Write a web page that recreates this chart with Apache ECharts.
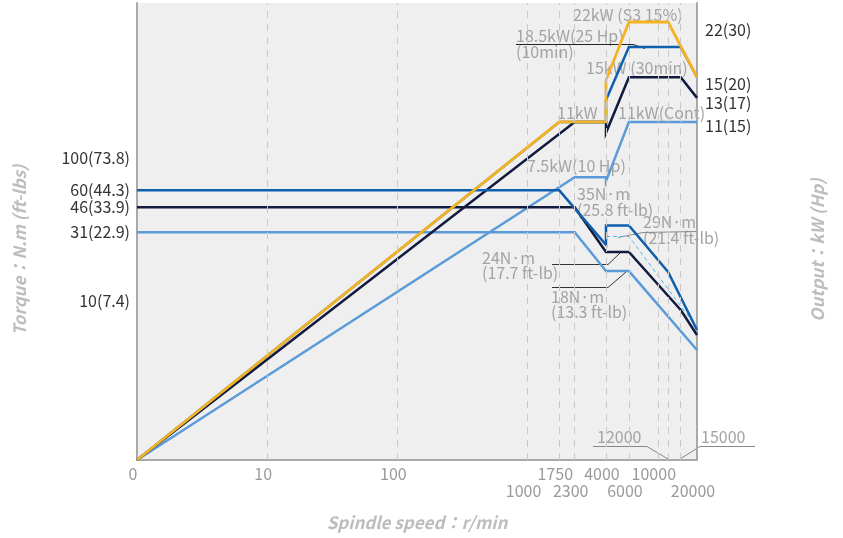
<!DOCTYPE html>
<html><head><meta charset="utf-8">
<script src="https://cdn.jsdelivr.net/npm/echarts@6/dist/echarts.min.js"></script>
<style>html,body{margin:0;padding:0;background:#fff}#c{width:843px;height:538px}</style>
</head><body><div id="c"></div>
<script>
// ---------- data ----------
const speedTicksRow1 = [1, 10, 100, 1750, 4000, 10000];
const speedTickText1 = ['0', '10', '100', '1750', '4000', '10000'];
const speedTicksRow2 = [1000, 2300, 6000, 20000];
const speedTickText2 = ['1000', '2300', '6000', '20000'];
const gridSpeeds = [10, 100, 1000, 1750, 2300, 4000, 6000, 10000, 12000, 15000];

const torqueTicks = [100, 60, 46, 31, 10];
const torqueTickText = ['100(73.8)', '60(44.3)', '46(33.9)', '31(22.9)', '10(7.4)'];
const powerTicks = [22, 15, 13, 11];
const powerTickText = ['22(30)', '15(20)', '13(17)', '11(15)'];

const P0 = 1.055; // power drawn at 0 r/min (axis floor)
// power curves (kW)
const powerS3 = [[1, P0], [1750, 11], [4000, 11], [4000, 14.7], [6000, 22], [12000, 22], [20000, 15]];
const power10min = [[1, P0], [1750, 11], [4000, 11], [4000, 12.8], [6000, 18.5], [15000, 18.5], [20000, 15]];
const power30min = [[1, P0], [2300, 11], [4000, 11], [4000, 10.2], [6000, 15], [15000, 15], [20000, 13]];
const powerCont = [[1, P0], [2300, 7.5], [4000, 7.5], [4000, 7.3], [6000, 11], [20000, 11]];
// torque curves (N·m)
const torque10min = [[1, 60], [1750, 60], [4000, 25.4], [4000, 34.5], [6000, 34.5], [12000, 16.6], [20000, 6.64]];
const torque30min = [[1, 46], [2300, 46], [4000, 22.7], [6000, 22.7], [15000, 9.1], [20000, 6.13]];
const torqueCont = [[1, 31], [2300, 31], [4000, 16.8], [6000, 16.8], [20000, 4.84]];
const torqueS3 = [[4000, 29], [6000, 29], [20000, 6.85]];

// ---------- chart ----------
const FONT = '"Noto Sans CJK KR","Noto Sans",sans-serif';
const AX = '#a9a9a9';
const chart = echarts.init(document.getElementById('c'), null, {renderer: 'canvas'});

function ln(name, data, color, yIdx, w, type) {
  return {
    type: 'line', name, data, yAxisIndex: yIdx, symbol: 'none', silent: true,
    lineStyle: {color, width: w || 2.5, type: type || 'solid', cap: 'butt', join: 'miter'},
    animation: false
  };
}

chart.setOption({
  animation: false,
  grid: {left: 137, right: 146, top: 3, bottom: 78, show: true, backgroundColor: '#efefef', borderWidth: 0},
  xAxis: {
    type: 'log', min: 1, max: 20000, logBase: 10,
    axisLine: {show: true, onZero: false, lineStyle: {color: AX, width: 2}},
    axisTick: {show: false}, axisLabel: {show: false}, splitLine: {show: false}
  },
  yAxis: [
    {type: 'log', min: 0.854, max: 1152, position: 'left',
     axisLine: {show: true, onZero: false, lineStyle: {color: AX, width: 2}},
     axisTick: {show: false}, axisLabel: {show: false}, splitLine: {show: false}},
    {type: 'log', min: P0, max: 25.1, position: 'right',
     axisLine: {show: true, onZero: false, lineStyle: {color: AX, width: 2}},
     axisTick: {show: false}, axisLabel: {show: false}, splitLine: {show: false}}
  ],
  series: [
    {type: 'line', data: [], yAxisIndex: 0, silent: true,
     markLine: {symbol: 'none', silent: true, animation: false, label: {show: false},
       lineStyle: {color: '#c9c9c9', width: 1, type: [7, 6]},
       data: gridSpeeds.map(v => ({xAxis: v}))}},
    ln('torqueCont', torqueCont, '#5b9bd9', 0),
    ln('powerCont', powerCont, '#5b9bd9', 1),
    ln('torqueS3', torqueS3, '#4fb5ec', 0, 1, [4, 3]),
    ln('torque30min', torque30min, '#121a3e', 0),
    ln('power30min', power30min, '#121a3e', 1),
    ln('torque10min', torque10min, '#0f5fad', 0),
    ln('power10min', power10min, '#0f5fad', 1),
    ln('powerS3', powerS3, '#f5b223', 1, 2.8)
  ]
});

// ---------- text & annotations ----------
const px = v => chart.convertToPixel({xAxisIndex: 0}, v);
const pyT = v => chart.convertToPixel({yAxisIndex: 0}, v);
const pyP = v => chart.convertToPixel({yAxisIndex: 1}, v);
const gridBottom = 538 - 78;

const g = [];
function txt(text, x, y, color, size, align, extra) {
  g.push(Object.assign({type: 'text', x, y, silent: true,
    style: {text, fill: color, font: (size || 16) + 'px ' + FONT, textAlign: align || 'left', textVerticalAlign: 'middle'}}, extra || {}));
}
function poly(points, color) {
  g.push({type: 'polyline', silent: true, shape: {points}, style: {stroke: color, lineWidth: 1, fill: null}});
}

speedTicksRow1.forEach((v, i) => txt(speedTickText1[i], px(v) - 4, gridBottom + 14, '#9a9a9a', 16, 'center'));
speedTicksRow2.forEach((v, i) => txt(speedTickText2[i], px(v) - 4, gridBottom + 31, '#9a9a9a', 16, 'center'));
torqueTicks.forEach((v, i) => txt(torqueTickText[i], 130, pyT(v) - (v === 10 ? 3 : 0), '#333', 16, 'right'));
const powerLabelShift = [8, 7, 5, 4];
powerTicks.forEach((v, i) => txt(powerTickText[i], 705, pyP(v) + powerLabelShift[i], '#333', 16, 'left'));

const ANN = '#a3a3a3';
[
  ['22kW (S3 15%)', 573, 15], ['18.5kW(25 Hp)', 516, 36], ['(10min)', 516, 52],
  ['15kW (30min)', 586, 68], ['11kW', 557, 113], ['11kW(Cont)', 618, 113],
  ['7.5kW(10 Hp)', 527, 166], ['35N·m', 577, 194], ['(25.8 ft-lb)', 577, 210],
  ['29N·m', 643, 222], ['(21.4 ft-lb)', 643, 238], ['24N·m', 482, 258], ['(17.7 ft-lb)', 482, 273],
  ['18N·m', 551, 297], ['(13.3 ft-lb)', 551, 312], ['12000', 597, 437], ['15000', 701, 437]
].forEach(a => txt(a[0], a[1], a[2], ANN, 16, 'left'));

poly([[516, 44.5], [633, 44.5], [645, 48.5]], '#222');
poly([[697, 231.5], [643, 232.5], [618, 237.5]], '#8a8a8a');
poly([[552, 264.5], [608, 264.5], [620, 253]], '#333');
poly([[552, 287.5], [608, 287.5], [626, 272]], '#333');
poly([[593, 446.5], [647, 446.5], [668, 459]], '#888');
poly([[755, 446.5], [700, 446.5], [680, 459]], '#888');

const TT = 'italic bold 17px ' + FONT;
g.push({type: 'text', x: 417, y: 523, silent: true,
  style: {text: 'Spindle speed：r/min', fill: '#bdbdbd', font: TT, textAlign: 'center', textVerticalAlign: 'middle'}});
g.push({type: 'text', x: 20, y: 250, rotation: Math.PI / 2, silent: true,
  style: {text: 'Torque：N.m (ft-lbs)', fill: '#bdbdbd', font: TT, textAlign: 'center', textVerticalAlign: 'middle'}});
g.push({type: 'text', x: 818, y: 250, rotation: Math.PI / 2, silent: true,
  style: {text: 'Output：kW (Hp)', fill: '#bdbdbd', font: TT, textAlign: 'center', textVerticalAlign: 'middle'}});

chart.setOption({graphic: g});
</script></body></html>
